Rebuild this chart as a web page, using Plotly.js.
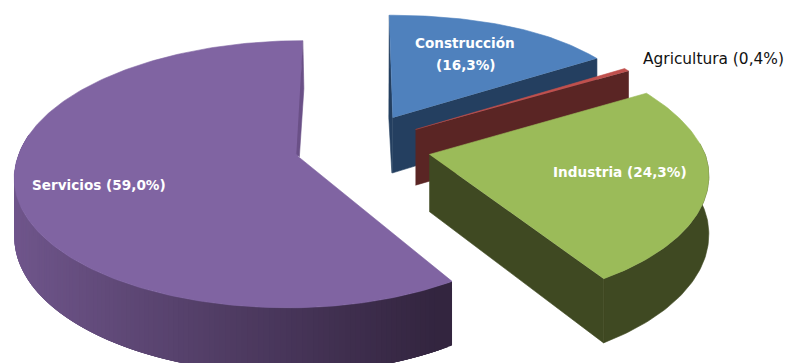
<!DOCTYPE html>
<html>
<head>
<meta charset="utf-8">
<script src="https://cdn.plot.ly/plotly-3.0.1.min.js"></script>
<style>html,body{margin:0;padding:0;background:#fff}#chart{width:788px;height:363px}</style>
</head>
<body>
<div id="chart"></div>
<script>
// Employment by sector, as an exploded perspective pie.
const sectors = ['Construcción', 'Agricultura', 'Industria', 'Servicios'];
const shares = [16.3, 0.4, 24.3, 59.0];
const topColors = ['#4F81BD', '#C0504D', '#9BBB59', '#8064A2'];
const faceColors = ['#243F60', '#5A2524', '#3F4922', '#6A5087'];

// Per-slice adjustments of the projection: screen offset, squeeze of the
// right-hand half, extra squeeze towards the back, backward lean and drop of the far rim.
const sliceShiftX = [-2, -4, 1, 0];
const sliceShiftY = [-4, -3, -1, 0];
const rightSqueeze = [0.95, 0.97, 0.985, 0.957];
const backSqueeze = [0, 0, 0.03, 0];
const upperLean = [0, 0, 0, 3];
const farDrop = [6, 0, 0, 0];

// Perspective camera: unit-radius disc seen from above, tilted away from the viewer.
const cam = {cx: 363, cy: 148, fx: 278, fy: 129, k: 0.13, depth: 56.6};
const explode = 0.24;
const startAngle = 90;
const rad = d => d * Math.PI / 180;

function project(i, X, Y, low, lean, drop) {
  const w = 1 + cam.k * Y;
  return [cam.cx + cam.fx * X / w + sliceShiftX[i] - (lean || 0),
          cam.cy - cam.fy * Y / w + (low ? cam.depth / w : 0) + sliceShiftY[i] + (drop || 0)];
}

// Clockwise angular span of every sector, from its share.
let running = startAngle;
const spans = shares.map((s, i) => {
  const a = running, b = running - s * 3.6;
  running = b;
  return {i, a, b, mid: (a + b) / 2};
});
const apexWorld = sp => [explode * Math.cos(rad(sp.mid)), explode * Math.sin(rad(sp.mid))];
const apex = (sp, low) => {
  const [ax, ay] = apexWorld(sp);
  return project(sp.i, ax, ay, low);
};
function rim(sp, deg, low) {
  const [ax, ay] = apexWorld(sp);
  const c = Math.cos(rad(deg)), s = Math.sin(rad(deg));
  const up = Math.max(0, s);
  const squeeze = rightSqueeze[sp.i] - backSqueeze[sp.i] * up;
  return project(sp.i, ax + (c > 0 ? c * squeeze : c), ay + s, low,
                 upperLean[sp.i] * up, farDrop[sp.i] * Math.pow(up, 4));
}
function arcAngles(from, to) {
  const n = Math.max(2, Math.ceil(Math.abs(from - to)));
  const out = [];
  for (let i = 0; i <= n; i++) out.push(from + (to - from) * i / n);
  return out;
}
function poly(points, color, name, width) {
  return {
    type: 'scatter', mode: 'lines', name,
    x: points.map(p => p[0]), y: points.map(p => p[1]),
    fill: 'toself', fillcolor: color,
    line: {color, width: width === undefined ? 0.6 : width},
    hoverinfo: 'skip', showlegend: false
  };
}
const topFace = i => {
  const sp = spans[i];
  return poly([apex(sp, false), ...arcAngles(sp.a, sp.b).map(d => rim(sp, d, false))],
              topColors[i], sectors[i]);
};
// Wall running inward along the sector's radial edge.
const cutFace = (i, deg, color) => {
  const sp = spans[i];
  return poly([apex(sp, false), rim(sp, deg, false), rim(sp, deg, true), apex(sp, true)],
              color, sectors[i] + ' cara');
};
// Curved outer wall.
const outerWall = (i, from, to, color, width) => {
  const sp = spans[i], angles = arcAngles(from, to);
  return poly([...angles.map(d => rim(sp, d, false)),
               ...angles.slice().reverse().map(d => rim(sp, d, true))],
              color, sectors[i] + ' borde', width);
};

const traces = [];

// Construcción: thin sliver on the start edge, then the cut wall and the top.
{
  const sp = spans[0];
  const a0 = apex(sp, false), r0 = rim(sp, sp.a, false), b0 = apex(sp, true);
  traces.push(poly([r0, [a0[0] - 4, a0[1]], [b0[0] - 1, b0[1]], b0, a0], faceColors[0], 'Construcción canto'));
  traces.push(cutFace(0, sp.b, faceColors[0]));
  traces.push(topFace(0));
}
// Agricultura
traces.push(cutFace(1, spans[1].b, faceColors[1]));
traces.push(topFace(1));
// Industria
traces.push(outerWall(2, spans[2].a - 25, spans[2].b, faceColors[2]));
traces.push(cutFace(2, spans[2].b, faceColors[2]));
traces.push(topFace(2));

// Servicios: the outer wall darkens steadily from left to right. Each strip
// overlaps the next one so that no seams show between them.
{
  const sp = spans[3];
  const light = [112, 86, 140], dark = [50, 36, 62];
  const steps = arcAngles(-190, sp.a);
  const x0 = 12, x1 = 453;
  for (let i = 0; i + 1 < steps.length; i++) {
    const m = rim(sp, steps[i], false)[0];
    const t = Math.min(1, Math.max(0, (m - x0) / (x1 - x0)));
    const c = light.map((v, j) => Math.round(v + (dark[j] - v) * t));
    const reach = Math.max(i - 3, 0);
    traces.push(outerWall(3, steps[i + 1], steps[reach], `rgb(${c.join(',')})`, 0));
  }
  traces.push(topFace(3));
  const a0 = apex(sp, false), r0 = rim(sp, sp.b, false);
  traces.push(poly([r0, [r0[0] + 1, r0[1] + 48], [a0[0] + 1, a0[1]], [a0[0] - 2, a0[1] - 3]], faceColors[3], 'Servicios canto'));
}

const pct = s => s.toFixed(1).replace('.', ',') + '%';
const labelFont = {family: 'DejaVu Sans, sans-serif', size: 13.6, color: '#fff', weight: 'bold'};
const note = (x, y, text, font) => ({x, y, text, font, showarrow: false, xanchor: 'center', yanchor: 'middle'});

const layout = {
  width: 788, height: 363,
  margin: {l: 0, r: 0, t: 0, b: 0},
  paper_bgcolor: '#fff', plot_bgcolor: '#fff',
  showlegend: false,
  xaxis: {range: [0, 788], visible: false, fixedrange: true},
  yaxis: {range: [363, 0], visible: false, fixedrange: true},
  annotations: [
    note(465, 43, sectors[0], labelFont),
    note(466, 65, '(' + pct(shares[0]) + ')', labelFont),
    note(713, 59, `${sectors[1]} (${pct(shares[1])})`, {family: 'DejaVu Sans, sans-serif', size: 15.4, color: '#111'}),
    note(620, 172, `${sectors[2]} (${pct(shares[2])})`, labelFont),
    note(99, 185, `${sectors[3]} (${pct(shares[3])})`, labelFont)
  ]
};
Plotly.newPlot('chart', traces, layout, {displayModeBar: false, staticPlot: true});
</script>
</body>
</html>
